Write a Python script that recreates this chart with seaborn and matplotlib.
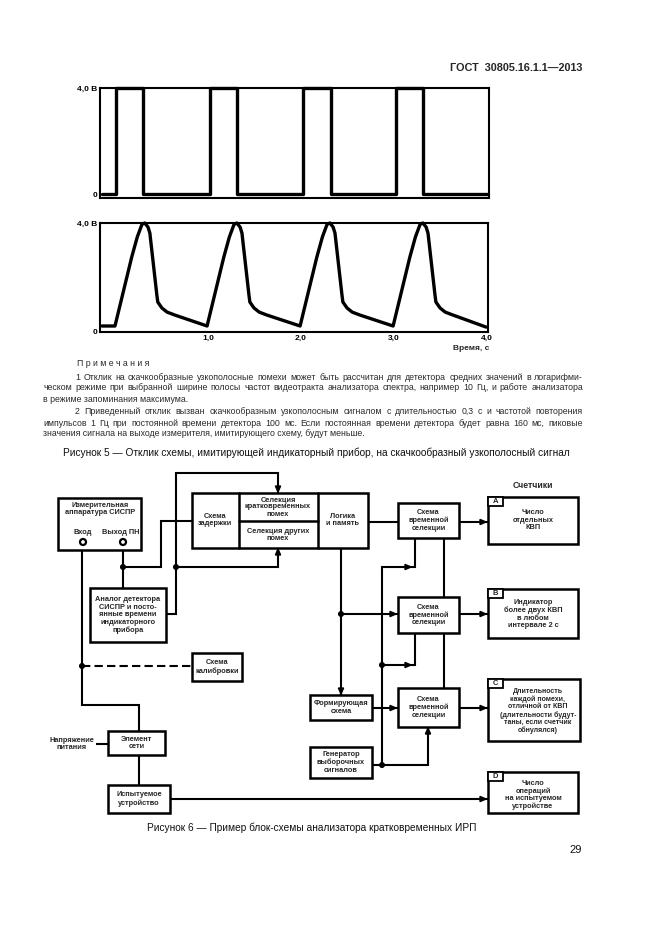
import matplotlib
matplotlib.use("Agg")
import matplotlib.pyplot as plt
from matplotlib.patches import Rectangle, Polygon, Circle
import numpy as np
import pandas as pd
import seaborn as sns

# ---------------- data ----------------
pulse_time = [-0.14, 0.01, 0.30, 1.02, 1.31, 2.02, 2.32, 3.02, 3.31, 4.01]
pulse_level = [0, 4, 0, 4, 0, 4, 0, 4, 0, 0]

resp_time = [-0.14,
             0.00, 0.18, 0.24, 0.29, 0.32, 0.355, 0.375, 0.45, 0.46, 0.505, 0.56, 0.645,
             0.99, 1.17, 1.23, 1.28, 1.31, 1.345, 1.365, 1.44, 1.45, 1.495, 1.55, 1.635,
             1.99, 2.17, 2.23, 2.28, 2.31, 2.345, 2.365, 2.44, 2.45, 2.495, 2.55, 2.635,
             2.99, 3.17, 3.23, 3.28, 3.31, 3.345, 3.365, 3.44, 3.45, 3.495, 3.55, 3.635,
             3.99]
resp_level = [0.22,
              0.22, 2.75, 3.49, 3.95, 4.00, 3.85, 3.63, 1.36, 1.10, 0.88, 0.73, 0.62,
              0.22, 2.75, 3.49, 3.95, 4.00, 3.85, 3.63, 1.36, 1.10, 0.88, 0.73, 0.62,
              0.22, 2.75, 3.49, 3.95, 4.00, 3.85, 3.63, 1.36, 1.10, 0.88, 0.73, 0.62,
              0.22, 2.75, 3.49, 3.95, 4.00, 3.85, 3.63, 1.36, 1.10, 0.88, 0.73, 0.62,
              0.18]

y_tick_vals = [0, 4]
y_tick_labels = ["0", "4,0 В"]
x_tick_vals = [1, 2, 3, 4]
x_tick_labels = ["1,0", "2,0", "3,0", "4,0"]
x_label = "Время, с"

header = "ГОСТ  30805.16.1.1—2013"
notes_title = "П р и м е ч а н и я"
note_lines = [
    ("1 Отклик на скачкообразные узкополосные помехи может быть рассчитан для детектора средних значений в логарифми-", True, True),
    ("ческом режиме при выбранной ширине полосы частот видеотракта анализатора спектра, например 10 Гц, и работе анализатора", False, True),
    ("в режиме запоминания максимума.", False, False),
    ("2 Приведенный отклик вызван скачкообразным узкополосным сигналом с длительностью 0,3 с и частотой повторения", True, True),
    ("импульсов 1 Гц при постоянной времени детектора 100 мс. Если постоянная времени детектора будет равна 160 мс, пиковые", False, True),
    ("значения сигнала на выходе измерителя, имитирующего схему, будут меньше.", False, False),
]
caption5 = "Рисунок 5 — Отклик схемы, имитирующей индикаторный прибор, на скачкообразный узкополосный сигнал"
caption6 = "Рисунок 6 — Пример блок-схемы анализатора кратковременных ИРП"
page_no = "29"

# ---------------- style ----------------
sns.set_style("white")
plt.rcParams["font.family"] = ["Liberation Sans", "DejaVu Sans"]

W, H = 661, 935
fig = plt.figure(figsize=(W / 100, H / 100), dpi=100)
fig.patch.set_facecolor("white")

bg = fig.add_axes([0, 0, 1, 1], zorder=0)
bg.set_xlim(0, W)
bg.set_ylim(H, 0)
bg.axis("off")


def px_axes(x0, y0, x1, y1):
    ax = fig.add_axes([x0 / W, 1 - y1 / H, (x1 - x0) / W, (y1 - y0) / H], zorder=2)
    ax.patch.set_alpha(0)
    return ax


def style_plot(ax):
    for s in ax.spines.values():
        s.set_linewidth(1.5)
        s.set_color("black")
        s.set_visible(True)
    ax.tick_params(length=0, labelsize=6, pad=2, colors="black")
    for lab in ax.get_xticklabels() + ax.get_yticklabels():
        lab.set_fontweight("bold")
    ax.set_xlabel("")
    ax.set_ylabel("")


# Top plot: input pulses
ax1 = px_axes(100, 88, 489, 198)
sns.lineplot(x=pulse_time, y=pulse_level, ax=ax1, color="black", linewidth=2.4,
             estimator=None, sort=False, drawstyle="steps-post", clip_on=False)
ax1.set_xlim(-0.161, 4.02)
ax1.set_ylim(-0.15, 4.0)
ax1.set_xticks([])
ax1.set_yticks(y_tick_vals)
ax1.set_yticklabels(y_tick_labels)
style_plot(ax1)

# Bottom plot: response
ax2 = px_axes(100, 223, 488, 332)
sns.lineplot(x=resp_time, y=resp_level, ax=ax2, color="black", linewidth=2.4,
             estimator=None, sort=False, clip_on=False)
ax2.set_xlim(-0.161, 4.01)
ax2.set_ylim(0, 4.0)
ax2.set_xticks(x_tick_vals)
ax2.set_xticklabels(x_tick_labels)
ax2.set_yticks(y_tick_vals)
ax2.set_yticklabels(y_tick_labels)
style_plot(ax2)
bg.text(489, 348, x_label, ha="right", va="center", fontsize=6, fontweight="bold")

# ---------------- page text ----------------
renderer = fig.canvas.get_renderer()
bg.text(582, 68, header, ha="right", va="center", fontsize=7.8, fontweight="bold")

NFS = 6.3
TC = "#2a2a2a"
bg.text(77, 363, notes_title, ha="left", va="center", fontsize=NFS, color=TC)
note_y = [377, 388, 399, 411, 423, 434]
for (line, indent, just), y in zip(note_lines, note_y):
    x0 = 75 if indent else 43
    x1 = 583
    if not just:
        bg.text(x0, y, line, ha="left", va="center", fontsize=NFS, color=TC)
        continue
    words = line.split(" ")
    ts = [bg.text(0, y, w, ha="left", va="center", fontsize=NFS, color=TC) for w in words]
    ws = [t.get_window_extent(renderer).width for t in ts]
    gap = (x1 - x0 - sum(ws)) / (len(words) - 1)
    x = x0
    for t, w in zip(ts, ws):
        t.set_x(x)
        x += w + gap

bg.text(316, 453, caption5, ha="center", va="center", fontsize=7.3, color="#111111")
bg.text(312, 828, caption6, ha="center", va="center", fontsize=7.3, color="#111111")
bg.text(582, 850, page_no, ha="right", va="center", fontsize=8, color="#111111")

# ---------------- block diagram ----------------
LW_BOX = 1.8
LW_LINE = 1.5
DFS = 5.3


def box(x0, y0, x1, y1, text=None, cx=None, cy=None, fs=DFS, lw=LW_BOX):
    bg.add_patch(Rectangle((x0, y0), x1 - x0, y1 - y0, facecolor="white",
                           edgecolor="black", lw=lw, zorder=3))
    if text:
        bg.text(cx if cx is not None else (x0 + x1) / 2,
                cy if cy is not None else (y0 + y1) / 2,
                text, ha="center", va="center", fontsize=fs, fontweight="bold",
                linespacing=1.12, zorder=6)


def tag(x0, y0, letter):
    bg.add_patch(Rectangle((x0, y0), 15, 9, facecolor="white", edgecolor="black",
                           lw=1.3, zorder=5))
    bg.text(x0 + 7.5, y0 + 4.8, letter, ha="center", va="center", fontsize=5.5,
            fontweight="bold", zorder=6)


def line(xs, ys, ls="-"):
    bg.plot(xs, ys, color="black", lw=LW_LINE, ls=ls, zorder=2,
            solid_joinstyle="miter", solid_capstyle="butt",
            dashes=(4, 2) if ls == "--" else (None, None))


def arrow(x, y, d, L=6, hw=2.6):
    if d == "r":
        pts = [(x, y), (x - L, y - hw), (x - L, y + hw)]
    elif d == "l":
        pts = [(x, y), (x + L, y - hw), (x + L, y + hw)]
    elif d == "d":
        pts = [(x, y), (x - hw, y - L), (x + hw, y - L)]
    else:
        pts = [(x, y), (x - hw, y + L), (x + hw, y + L)]
    bg.add_patch(Polygon(pts, closed=True, color="black", zorder=4))


def dot(x, y, r=2.3):
    bg.add_patch(Circle((x, y), r, color="black", zorder=4))


def terminal(x, y):
    bg.add_patch(Circle((x, y), 3.0, facecolor="white", edgecolor="black", lw=1.6, zorder=5))


# connecting lines
line([82, 82, 139, 139], [545, 705, 705, 731])
line([82, 192], [666, 666], ls="--")
dot(82, 666)
line([123, 123], [545, 588])
line([123, 161, 161, 192], [567, 567, 521, 521])
dot(123, 567)
line([166, 176, 176, 278, 278], [614, 614, 473, 473, 493])
arrow(278, 492, "d")
line([176, 278, 278], [567, 567, 548])
arrow(278, 549, "u")
dot(176, 567)
line([368, 398], [522, 522])
line([459, 488], [522, 522])
arrow(486, 522, "r")
line([341, 341], [548, 695])
arrow(341, 694, "d")
line([341, 398], [614, 614])
arrow(396, 614, "r")
dot(341, 614)
line([459, 488], [614, 614])
arrow(486, 614, "r")
line([372, 398], [708, 708])
arrow(396, 708, "r")
line([459, 488], [708, 708])
arrow(486, 708, "r")
line([382, 382, 415, 415], [765, 567, 567, 538])
arrow(411, 567, "r")
line([382, 415, 415], [665, 665, 633])
arrow(411, 665, "r")
dot(382, 665)
line([372, 428, 428], [765, 765, 727])
arrow(428, 728, "u")
dot(382, 765)
line([444, 444], [538, 688])
line([170, 488], [799, 799])
arrow(486, 799, "r")
line([139, 139], [755, 785])
line([96, 108], [744, 744])

# boxes
box(58, 498, 141, 550, "Измерительная\nаппаратура СИСПР", cx=100, cy=509)
bg.text(83, 532, "Вход", ha="center", va="center", fontsize=DFS, fontweight="bold", zorder=6)
bg.text(121, 532, "Выход ПН", ha="center", va="center", fontsize=DFS, fontweight="bold", zorder=6)
terminal(83, 542)
terminal(123, 542)

box(90, 588, 166, 642, "Аналог детектора\nСИСПР и посто-\nянные времени\nиндикаторного\nприбора")

box(192, 493, 368, 548)
for x0 in (239, 318):
    bg.plot([x0, x0], [493, 548], color="black", lw=LW_BOX, zorder=4)
bg.plot([239, 318], [521, 521], color="black", lw=LW_BOX, zorder=4)
bg.text(215, 520, "Схема\nзадержки", ha="center", va="center", fontsize=DFS, fontweight="bold", linespacing=1.12, zorder=6)
bg.text(278, 507, "Селекция\nкратковременных\nпомех", ha="center", va="center", fontsize=DFS, fontweight="bold", linespacing=1.0, zorder=6)
bg.text(278, 535, "Селекция других\nпомех", ha="center", va="center", fontsize=DFS, fontweight="bold", linespacing=1.12, zorder=6)
bg.text(343, 520, "Логика\nи память", ha="center", va="center", fontsize=DFS, fontweight="bold", linespacing=1.12, zorder=6)

sel = "Схема\nвременной\nселекции"
box(398, 503, 459, 538, sel)
box(398, 597, 459, 633, sel)
box(398, 688, 459, 727, sel)

bg.text(533, 486, "Счетчики", ha="center", va="center", fontsize=6.2, fontweight="bold")
box(488, 497, 578, 544, "Число\nотдельных\nКВП", cx=533, cy=520)
tag(488, 497, "A")
box(488, 589, 578, 638, "Индикатор\nболее двух КВП\nв любом\nинтервале 2 с", cx=533, cy=614)
tag(488, 589, "B")
box(488, 679, 580, 741, "Длительность\nкаждой помехи,\nотличной от КВП\n(длительности будут-\nтаны, если счетчик\nобнулялся)",
    cx=538, cy=711, fs=5.0)
tag(488, 679, "C")
box(488, 772, 578, 813, "Число\nопераций\nна испытуемом\nустройстве", cx=533, cy=795)
tag(488, 772, "D")

box(310, 695, 372, 720, "Формирующая\nсхема")
box(310, 747, 372, 778, "Генератор\nвыборочных\nсигналов")
box(192, 653, 242, 681, "Схема\nкалибровки")
box(108, 731, 165, 755, "Элемент\nсети")
box(108, 785, 170, 813, "Испытуемое\nустройство")
bg.text(94, 744, "Напряжение\nпитания", ha="right", va="center", fontsize=DFS, fontweight="bold", linespacing=1.12, multialignment="center")

fig.savefig("out.png", dpi=100, facecolor="white")
